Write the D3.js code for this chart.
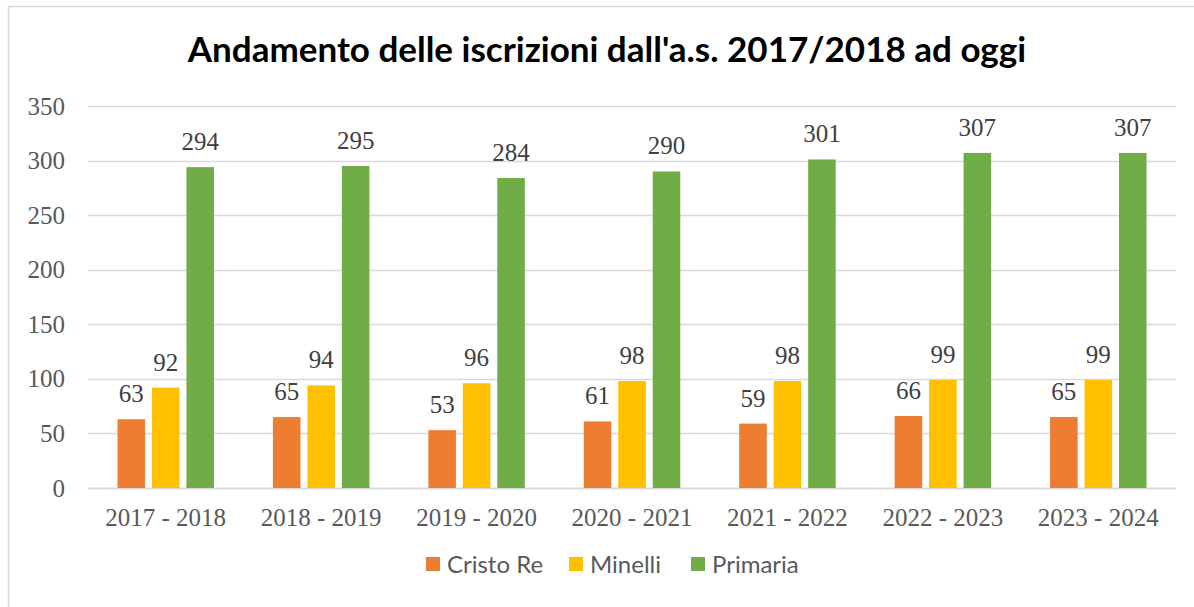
<!DOCTYPE html>
<html>
<head>
<meta charset="utf-8">
<script src="https://cdn.jsdelivr.net/npm/d3@7"></script>
<style>
  body { margin: 0; background: #fff; }
  svg { display: block; }
</style>
</head>
<body>
<script>
// data
var years = ['2017 - 2018', '2018 - 2019', '2019 - 2020', '2020 - 2021', '2021 - 2022', '2022 - 2023', '2023 - 2024'];
var seriesNames = ['Cristo Re', 'Minelli', 'Primaria'];
var cristoRe = [63, 65, 53, 61, 59, 66, 65];
var minelli = [92, 94, 96, 98, 98, 99, 99];
var primaria = [294, 295, 284, 290, 301, 307, 307];
var yTicks = [0, 50, 100, 150, 200, 250, 300, 350];
var colors = ['#ED7D31', '#FFC000', '#70AD47'];

var width = 1194, height = 607;
var plotLeft = 88, plotRight = 1176, plotTop = 106, plotBottom = 488;

var svg = d3.select('body').append('svg').attr('width', width).attr('height', height);

// chart border
svg.append('rect').attr('x', 8.5).attr('y', 6.5).attr('width', 1300).attr('height', 800)
    .attr('fill', 'white').attr('stroke', '#D9D9D9').attr('stroke-width', 1.5);

// title
svg.append('text')
    .attr('x', 607).attr('y', 62)
    .attr('text-anchor', 'middle')
    .attr('font-family', 'Lato, sans-serif')
    .attr('font-weight', 'bold')
    .attr('font-size', 35)
    .attr('fill', '#000')
    .text("Andamento delle iscrizioni dall'a.s. 2017/2018 ad oggi");

var y = d3.scaleLinear().domain([0, 350]).range([plotBottom, plotTop]);
var x0 = d3.scaleBand().domain(years).range([plotLeft, plotRight]).padding(0);
var x1 = d3.scaleBand().domain(seriesNames).range([29.5, 126]).paddingInner(0.2).paddingOuter(0);

// gridlines
svg.append('g').selectAll('line')
    .data(yTicks)
    .enter()
    .append('line')
    .attr('x1', plotLeft).attr('x2', plotRight)
    .attr('y1', function (d) { return Math.round(y(d)) + 0.5; })
    .attr('y2', function (d) { return Math.round(y(d)) + 0.5; })
    .attr('stroke', '#D9D9D9')
    .attr('stroke-width', function (d) { return d == 0 ? 2 : 1.5; });

// y tick labels
svg.append('g').selectAll('text')
    .data(yTicks)
    .enter()
    .append('text')
    .attr('x', 65)
    .attr('y', function (d) { return y(d); })
    .attr('dy', '0.34em')
    .attr('text-anchor', 'end')
    .attr('font-family', '"Liberation Serif", serif')
    .attr('font-size', 25)
    .attr('fill', '#595959')
    .text(function (d) { return d; });

// x labels
svg.append('g').selectAll('text')
    .data(years)
    .enter()
    .append('text')
    .attr('x', function (d) { return x0(d) + x0.bandwidth() / 2; })
    .attr('y', 526)
    .attr('text-anchor', 'middle')
    .attr('font-family', '"Liberation Serif", serif')
    .attr('font-size', 25)
    .attr('fill', '#595959')
    .text(function (d) { return d; });

var allSeries = [cristoRe, minelli, primaria];
var rows = years.map(function (yr, i) {
    return seriesNames.map(function (s, j) {
        return {year: yr, series: s, value: allSeries[j][i], color: colors[j]};
    });
});

var groups = svg.append('g').selectAll('g.group')
    .data(rows)
    .enter()
    .append('g')
    .attr('class', 'group')
    .attr('transform', function (d, i) { return 'translate(' + x0(years[i]) + ',0)'; });

groups.selectAll('rect')
    .data(function (d) { return d; })
    .enter()
    .append('rect')
    .attr('x', function (d) { return x1(d.series); })
    .attr('y', function (d) { return y(d.value); })
    .attr('width', x1.bandwidth())
    .attr('height', function (d) { return plotBottom - y(d.value); })
    .attr('fill', function (d) { return d.color; });

groups.selectAll('text')
    .data(function (d) { return d; })
    .enter()
    .append('text')
    .attr('x', function (d) { return x1(d.series) + x1.bandwidth() / 2; })
    .attr('y', function (d) { return y(d.value) - 17; })
    .attr('text-anchor', 'middle')
    .attr('font-family', '"Liberation Serif", serif')
    .attr('font-size', 25)
    .attr('fill', '#404040')
    .text(function (d) { return d.value; });

// legend
var legendX = [426, 569, 691];
var legend = svg.append('g').selectAll('g')
    .data(seriesNames)
    .enter()
    .append('g')
    .attr('transform', function (d, i) { return 'translate(' + legendX[i] + ',557)'; });

legend.append('rect')
    .attr('width', 14).attr('height', 14)
    .attr('fill', function (d, i) { return colors[i]; });

legend.append('text')
    .attr('x', 21).attr('y', 7)
    .attr('dy', '0.36em')
    .attr('font-family', 'Lato, sans-serif')
    .attr('font-size', 24)
    .attr('fill', '#595959')
    .text(function (d) { return d; });
</script>
</body>
</html>
